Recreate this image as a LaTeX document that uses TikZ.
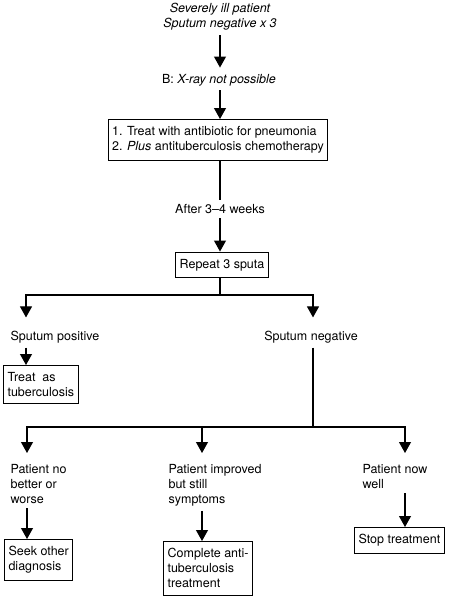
\documentclass[tikz,border=0pt]{standalone}
\usepackage{fontspec}
\setmainfont{TeX Gyre Heros}
\usetikzlibrary{arrows.meta}

\begin{document}
\begin{tikzpicture}[x=1pt, y=-1pt, >={Triangle[width=12pt,length=11pt]}, line width=1.1pt,
    every node/.style={font=\fontsize{12.5}{15}\selectfont},
    box/.style={draw, align=left, inner xsep=4pt, inner ysep=7pt},
    lbl/.style={align=left, inner xsep=2pt, inner ysep=4pt}]
\useasboundingbox (0,0) rectangle (450,599);
% columns of the arrows
\coordinate (lcol) at (26,0);
\coordinate (c1) at (27,0);
\coordinate (c2) at (202,0);
\coordinate (c3) at (405,0);
% junctions
\coordinate (s1) at (220,295);
\coordinate (s2) at (313,427);

\node[lbl, align=center] (top) at (220,17) {\itshape Severely ill patient\\\itshape Sputum negative x 3};
\node[lbl] (xray) at (219,80) {B: \textit{X-ray not possible}};
\node[box] (treat) at (218,140) {1. Treat with antibiotic for pneumonia\\2. \textit{Plus} antituberculosis chemotherapy};
\node[lbl] (after) at (220,209) {After 3--4 weeks};
\node[box] (repeat) at (222,265) {Repeat 3 sputa};

\node[lbl, anchor=west] (spos) at (8,337) {Sputum positive};
\node[lbl] (sneg) at (311,337) {Sputum negative};
\node[box, anchor=north west] (tbpos) at (3,365) {Treat\ \ as\\tuberculosis};

\node[lbl, anchor=north west] (nobetter) at (8,460) {Patient no\\better or\\worse};
\node[lbl, anchor=north west] (improved) at (166,460) {Patient improved\\but still\\symptoms};
\node[lbl, anchor=north west] (well) at (360,460) {Patient now\\well};

\node[box, anchor=north west] (seek) at (4,539) {Seek other\\diagnosis};
\node[box, anchor=north west] (complete) at (163,541) {Complete anti-\\tuberculosis\\treatment};
\node[box, anchor=north west] (stop) at (354,527) {Stop treatment};

\draw[->] (top.south -| after) -- ([yshift=2pt]xray.north -| after);
\draw[->] (xray.south -| after) -- (treat.north -| after);
\draw (treat.south -| after) -- (after.north);
\draw[->] (after.south) -- (repeat.north -| after);

% first split
\draw (repeat.south -| s1) -- (s1);
\draw[->] (s1) -| ([yshift=9pt]spos.north -| lcol);
\draw[->] (s1) -| ([yshift=9pt]sneg.north -| s2);
\draw[->] (spos.south -| lcol) -- (tbpos.north -| lcol);

% second split
\draw (sneg.south -| s2) -- (s2);
\draw[->] (s2) -| ([yshift=7pt]nobetter.north -| c1);
\draw[->] (s2) -| ([yshift=7pt]improved.north -| c2);
\draw[->] (s2) -| ([yshift=7pt]well.north -| c3);
\draw[->] (nobetter.south -| c1) -- (seek.north -| c1);
\draw[->] (improved.south -| c2) -- (complete.north -| c2);
\draw[->] (well.south -| c3) -- (stop.north -| c3);
\end{tikzpicture}
\end{document}
